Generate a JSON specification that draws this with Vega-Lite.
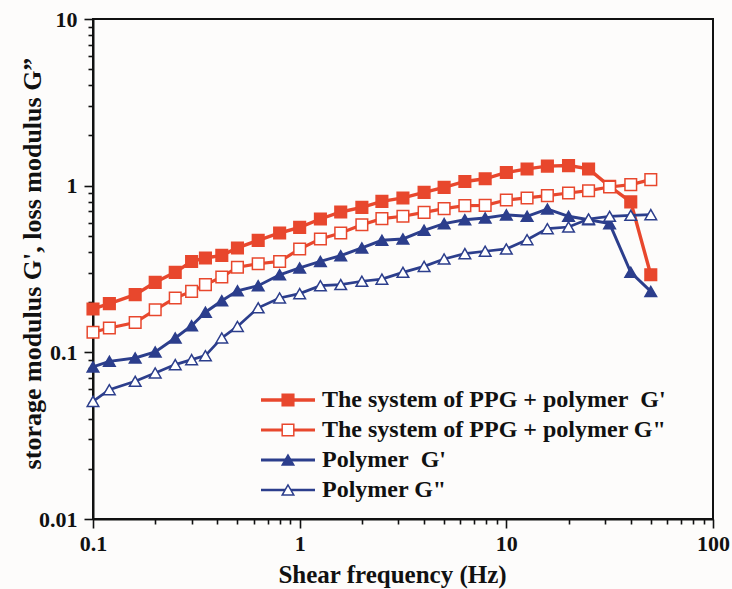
{
  "$schema": "https://vega.github.io/schema/vega-lite/v6.json",
  "width": 620,
  "height": 500,
  "autosize": {"type": "none"},
  "padding": {"left": 93, "top": 19, "right": 19, "bottom": 70},
  "background": "#FDFCFB",
  "config": {
    "view": {"stroke": "#111111", "strokeWidth": 2},
    "axis": {
      "grid": false,
      "domainColor": "#111111",
      "domainWidth": 2,
      "tickColor": "#111111",
      "tickWidth": 1.6,
      "labelFont": "Liberation Serif",
      "labelFontWeight": "bold",
      "labelFontSize": 22,
      "labelColor": "#111111",
      "labelOverlap": false,
      "labelFlush": false,
      "titleFont": "Liberation Serif",
      "titleFontWeight": "bold",
      "titleFontSize": 25,
      "titleColor": "#111111"
    }
  },
  "data": {
    "values": [
      {"f": 0.1, "v": 0.182, "s": "The system of PPG + polymer\u00a0 G'"},
      {"f": 0.12, "v": 0.196, "s": "The system of PPG + polymer\u00a0 G'"},
      {"f": 0.16, "v": 0.222, "s": "The system of PPG + polymer\u00a0 G'"},
      {"f": 0.2, "v": 0.263, "s": "The system of PPG + polymer\u00a0 G'"},
      {"f": 0.25, "v": 0.302, "s": "The system of PPG + polymer\u00a0 G'"},
      {"f": 0.3, "v": 0.351, "s": "The system of PPG + polymer\u00a0 G'"},
      {"f": 0.35, "v": 0.368, "s": "The system of PPG + polymer\u00a0 G'"},
      {"f": 0.42, "v": 0.382, "s": "The system of PPG + polymer\u00a0 G'"},
      {"f": 0.5, "v": 0.423, "s": "The system of PPG + polymer\u00a0 G'"},
      {"f": 0.63, "v": 0.47, "s": "The system of PPG + polymer\u00a0 G'"},
      {"f": 0.8, "v": 0.52, "s": "The system of PPG + polymer\u00a0 G'"},
      {"f": 1, "v": 0.562, "s": "The system of PPG + polymer\u00a0 G'"},
      {"f": 1.26, "v": 0.631, "s": "The system of PPG + polymer\u00a0 G'"},
      {"f": 1.58, "v": 0.695, "s": "The system of PPG + polymer\u00a0 G'"},
      {"f": 2, "v": 0.741, "s": "The system of PPG + polymer\u00a0 G'"},
      {"f": 2.5, "v": 0.805, "s": "The system of PPG + polymer\u00a0 G'"},
      {"f": 3.16, "v": 0.844, "s": "The system of PPG + polymer\u00a0 G'"},
      {"f": 4, "v": 0.912, "s": "The system of PPG + polymer\u00a0 G'"},
      {"f": 5, "v": 0.977, "s": "The system of PPG + polymer\u00a0 G'"},
      {"f": 6.3, "v": 1.06, "s": "The system of PPG + polymer\u00a0 G'"},
      {"f": 7.9, "v": 1.1, "s": "The system of PPG + polymer\u00a0 G'"},
      {"f": 10, "v": 1.2, "s": "The system of PPG + polymer\u00a0 G'"},
      {"f": 12.6, "v": 1.26, "s": "The system of PPG + polymer\u00a0 G'"},
      {"f": 15.8, "v": 1.31, "s": "The system of PPG + polymer\u00a0 G'"},
      {"f": 20, "v": 1.32, "s": "The system of PPG + polymer\u00a0 G'"},
      {"f": 25, "v": 1.26, "s": "The system of PPG + polymer\u00a0 G'"},
      {"f": 31.6, "v": 0.99, "s": "The system of PPG + polymer\u00a0 G'"},
      {"f": 40, "v": 0.8, "s": "The system of PPG + polymer\u00a0 G'"},
      {"f": 50, "v": 0.292, "s": "The system of PPG + polymer\u00a0 G'"},

      {"f": 0.1, "v": 0.132, "s": "The system of PPG + polymer G\""},
      {"f": 0.12, "v": 0.14, "s": "The system of PPG + polymer G\""},
      {"f": 0.16, "v": 0.151, "s": "The system of PPG + polymer G\""},
      {"f": 0.2, "v": 0.18, "s": "The system of PPG + polymer G\""},
      {"f": 0.25, "v": 0.212, "s": "The system of PPG + polymer G\""},
      {"f": 0.3, "v": 0.232, "s": "The system of PPG + polymer G\""},
      {"f": 0.35, "v": 0.255, "s": "The system of PPG + polymer G\""},
      {"f": 0.42, "v": 0.283, "s": "The system of PPG + polymer G\""},
      {"f": 0.5, "v": 0.324, "s": "The system of PPG + polymer G\""},
      {"f": 0.63, "v": 0.34, "s": "The system of PPG + polymer G\""},
      {"f": 0.8, "v": 0.351, "s": "The system of PPG + polymer G\""},
      {"f": 1, "v": 0.417, "s": "The system of PPG + polymer G\""},
      {"f": 1.26, "v": 0.479, "s": "The system of PPG + polymer G\""},
      {"f": 1.58, "v": 0.52, "s": "The system of PPG + polymer G\""},
      {"f": 2, "v": 0.583, "s": "The system of PPG + polymer G\""},
      {"f": 2.5, "v": 0.634, "s": "The system of PPG + polymer G\""},
      {"f": 3.16, "v": 0.655, "s": "The system of PPG + polymer G\""},
      {"f": 4, "v": 0.692, "s": "The system of PPG + polymer G\""},
      {"f": 5, "v": 0.728, "s": "The system of PPG + polymer G\""},
      {"f": 6.3, "v": 0.759, "s": "The system of PPG + polymer G\""},
      {"f": 7.9, "v": 0.762, "s": "The system of PPG + polymer G\""},
      {"f": 10, "v": 0.82, "s": "The system of PPG + polymer G\""},
      {"f": 12.6, "v": 0.844, "s": "The system of PPG + polymer G\""},
      {"f": 15.8, "v": 0.871, "s": "The system of PPG + polymer G\""},
      {"f": 20, "v": 0.904, "s": "The system of PPG + polymer G\""},
      {"f": 25, "v": 0.933, "s": "The system of PPG + polymer G\""},
      {"f": 31.6, "v": 0.982, "s": "The system of PPG + polymer G\""},
      {"f": 40, "v": 1.014, "s": "The system of PPG + polymer G\""},
      {"f": 50, "v": 1.087, "s": "The system of PPG + polymer G\""},

      {"f": 0.1, "v": 0.0817, "s": "Polymer\u00a0 G'"},
      {"f": 0.12, "v": 0.0883, "s": "Polymer\u00a0 G'"},
      {"f": 0.16, "v": 0.0925, "s": "Polymer\u00a0 G'"},
      {"f": 0.2, "v": 0.1005, "s": "Polymer\u00a0 G'"},
      {"f": 0.25, "v": 0.122, "s": "Polymer\u00a0 G'"},
      {"f": 0.3, "v": 0.1445, "s": "Polymer\u00a0 G'"},
      {"f": 0.35, "v": 0.174, "s": "Polymer\u00a0 G'"},
      {"f": 0.42, "v": 0.204, "s": "Polymer\u00a0 G'"},
      {"f": 0.5, "v": 0.234, "s": "Polymer\u00a0 G'"},
      {"f": 0.63, "v": 0.251, "s": "Polymer\u00a0 G'"},
      {"f": 0.8, "v": 0.292, "s": "Polymer\u00a0 G'"},
      {"f": 1, "v": 0.321, "s": "Polymer\u00a0 G'"},
      {"f": 1.26, "v": 0.351, "s": "Polymer\u00a0 G'"},
      {"f": 1.58, "v": 0.38, "s": "Polymer\u00a0 G'"},
      {"f": 2, "v": 0.423, "s": "Polymer\u00a0 G'"},
      {"f": 2.5, "v": 0.47, "s": "Polymer\u00a0 G'"},
      {"f": 3.16, "v": 0.479, "s": "Polymer\u00a0 G'"},
      {"f": 4, "v": 0.54, "s": "Polymer\u00a0 G'"},
      {"f": 5, "v": 0.592, "s": "Polymer\u00a0 G'"},
      {"f": 6.3, "v": 0.625, "s": "Polymer\u00a0 G'"},
      {"f": 7.9, "v": 0.64, "s": "Polymer\u00a0 G'"},
      {"f": 10, "v": 0.668, "s": "Polymer\u00a0 G'"},
      {"f": 12.6, "v": 0.655, "s": "Polymer\u00a0 G'"},
      {"f": 15.8, "v": 0.724, "s": "Polymer\u00a0 G'"},
      {"f": 20, "v": 0.655, "s": "Polymer\u00a0 G'"},
      {"f": 25, "v": 0.625, "s": "Polymer\u00a0 G'"},
      {"f": 31.6, "v": 0.592, "s": "Polymer\u00a0 G'"},
      {"f": 40, "v": 0.302, "s": "Polymer\u00a0 G'"},
      {"f": 50, "v": 0.232, "s": "Polymer\u00a0 G'"},

      {"f": 0.1, "v": 0.0508, "s": "Polymer G\""},
      {"f": 0.12, "v": 0.0597, "s": "Polymer G\""},
      {"f": 0.16, "v": 0.067, "s": "Polymer G\""},
      {"f": 0.2, "v": 0.0752, "s": "Polymer G\""},
      {"f": 0.25, "v": 0.0844, "s": "Polymer G\""},
      {"f": 0.3, "v": 0.0904, "s": "Polymer G\""},
      {"f": 0.35, "v": 0.0955, "s": "Polymer G\""},
      {"f": 0.42, "v": 0.122, "s": "Polymer G\""},
      {"f": 0.5, "v": 0.143, "s": "Polymer G\""},
      {"f": 0.63, "v": 0.185, "s": "Polymer G\""},
      {"f": 0.8, "v": 0.212, "s": "Polymer G\""},
      {"f": 1, "v": 0.225, "s": "Polymer G\""},
      {"f": 1.26, "v": 0.251, "s": "Polymer G\""},
      {"f": 1.58, "v": 0.255, "s": "Polymer G\""},
      {"f": 2, "v": 0.267, "s": "Polymer G\""},
      {"f": 2.5, "v": 0.275, "s": "Polymer G\""},
      {"f": 3.16, "v": 0.302, "s": "Polymer G\""},
      {"f": 4, "v": 0.328, "s": "Polymer G\""},
      {"f": 5, "v": 0.363, "s": "Polymer G\""},
      {"f": 6.3, "v": 0.391, "s": "Polymer G\""},
      {"f": 7.9, "v": 0.404, "s": "Polymer G\""},
      {"f": 10, "v": 0.417, "s": "Polymer G\""},
      {"f": 12.6, "v": 0.474, "s": "Polymer G\""},
      {"f": 15.8, "v": 0.552, "s": "Polymer G\""},
      {"f": 20, "v": 0.565, "s": "Polymer G\""},
      {"f": 25, "v": 0.631, "s": "Polymer G\""},
      {"f": 31.6, "v": 0.655, "s": "Polymer G\""},
      {"f": 40, "v": 0.664, "s": "Polymer G\""},
      {"f": 50, "v": 0.67, "s": "Polymer G\""}
    ]
  },
  "encoding": {
    "x": {
      "field": "f",
      "type": "quantitative",
      "scale": {"type": "log", "domain": [0.1, 100]},
      "axis": {
        "title": "Shear frequency (Hz)",
        "values": [0.1, 0.2, 0.3, 0.4, 0.5, 0.6, 0.7, 0.8, 0.9, 1, 2, 3, 4, 5, 6, 7, 8, 9, 10, 20, 30, 40, 50, 60, 70, 80, 90, 100],
        "format": "~g",
        "labelExpr": "(datum.value == 0.1 || datum.value == 1 || datum.value == 10 || datum.value == 100) ? datum.label : ''",
        "tickSize": {"condition": {"test": "datum.value == 0.1 || datum.value == 1 || datum.value == 10 || datum.value == 100", "value": 9}, "value": 5},
        "labelPadding": 5,
        "titleX": 299,
        "titleY": 63,
        "titleBaseline": "alphabetic"
      }
    },
    "y": {
      "field": "v",
      "type": "quantitative",
      "scale": {"type": "log", "domain": [0.01, 10]},
      "axis": {
        "title": "storage modulus G', loss modulus G”",
        "titleFontSize": 26,
        "values": [0.01, 0.02, 0.03, 0.04, 0.05, 0.06, 0.07, 0.08, 0.09, 0.1, 0.2, 0.3, 0.4, 0.5, 0.6, 0.7, 0.8, 0.9, 1, 2, 3, 4, 5, 6, 7, 8, 9, 10],
        "format": "~g",
        "labelExpr": "(datum.value == 0.01 || datum.value == 0.1 || datum.value == 1 || datum.value == 10) ? datum.label : ''",
        "tickSize": {"condition": {"test": "datum.value == 0.01 || datum.value == 0.1 || datum.value == 1 || datum.value == 10", "value": 9}, "value": 5},
        "labelPadding": 7,
        "titleX": -61,
        "titleY": 244,
        "titleBaseline": "middle"
      }
    }
  },
  "layer": [
    {
      "mark": {"type": "line"},
      "encoding": {
        "color": {
          "field": "s",
          "type": "nominal",
          "scale": {
            "domain": ["The system of PPG + polymer\u00a0 G'", "The system of PPG + polymer G\"", "Polymer\u00a0 G'", "Polymer G\"", "-"],
            "range": ["#E8472D", "#E8472D", "#2C3E8C", "#2C3E8C", "#E8472D"]
          },
          "legend": {
            "title": null,
            "orient": "none",
            "legendX": 166,
            "legendY": 370,
            "padding": 0,
            "values": ["The system of PPG + polymer\u00a0 G'", "The system of PPG + polymer G\"", "Polymer\u00a0 G'", "Polymer G\""],
            "symbolType": "stroke",
            "symbolSize": 2916,
            "clipHeight": 22,
            "rowPadding": 6,
            "labelOffset": 6,
            "labelLimit": 0,
            "labelFont": "Liberation Serif",
            "labelFontWeight": "bold",
            "labelFontSize": 24,
            "labelOpacity": 0
          }
        },
        "strokeWidth": {
          "field": "s",
          "type": "nominal",
          "scale": {
            "domain": ["The system of PPG + polymer\u00a0 G'", "The system of PPG + polymer G\"", "Polymer\u00a0 G'", "Polymer G\"", "-"],
            "range": [3.4, 2.5, 3.4, 2.5, 3]
          }
        }
      }
    },
    {
      "mark": {"type": "point", "filled": true, "strokeWidth": 1.5, "opacity": 1},
      "encoding": {
        "fill": {
          "field": "s",
          "type": "nominal",
          "scale": {
            "domain": ["The system of PPG + polymer\u00a0 G'", "The system of PPG + polymer G\"", "Polymer\u00a0 G'", "Polymer G\""],
            "range": ["#E8472D", "#FFFFFF", "#2C3E8C", "#FFFFFF"]
          }
        },
        "stroke": {
          "field": "s",
          "type": "nominal",
          "scale": {
            "domain": ["The system of PPG + polymer\u00a0 G'", "The system of PPG + polymer G\"", "Polymer\u00a0 G'", "Polymer G\""],
            "range": ["#E8472D", "#E8472D", "#2C3E8C", "#2C3E8C"]
          }
        },
        "size": {
          "field": "s",
          "type": "nominal",
          "scale": {
            "domain": ["The system of PPG + polymer\u00a0 G'", "The system of PPG + polymer G\"", "Polymer\u00a0 G'", "Polymer G\""],
            "range": [135, 135, 190, 190]
          }
        },
        "shape": {
          "field": "s",
          "type": "nominal",
          "scale": {
            "domain": ["The system of PPG + polymer\u00a0 G'", "The system of PPG + polymer G\"", "Polymer\u00a0 G'", "Polymer G\""],
            "range": ["square", "square", "triangle-up", "triangle-up"]
          },
          "legend": {
            "title": null,
            "orient": "none",
            "legendX": 183,
            "legendY": 370,
            "padding": 0,
            "clipHeight": 22,
            "rowPadding": 6,
            "labelOffset": 22,
            "labelLimit": 0,
            "labelFont": "Liberation Serif",
            "labelFontWeight": "bold",
            "labelFontSize": 24,
            "labelColor": "#111111",
            "symbolStrokeWidth": 1.5,
            "symbolOpacity": 1
          }
        }
      }
    }
  ]
}
